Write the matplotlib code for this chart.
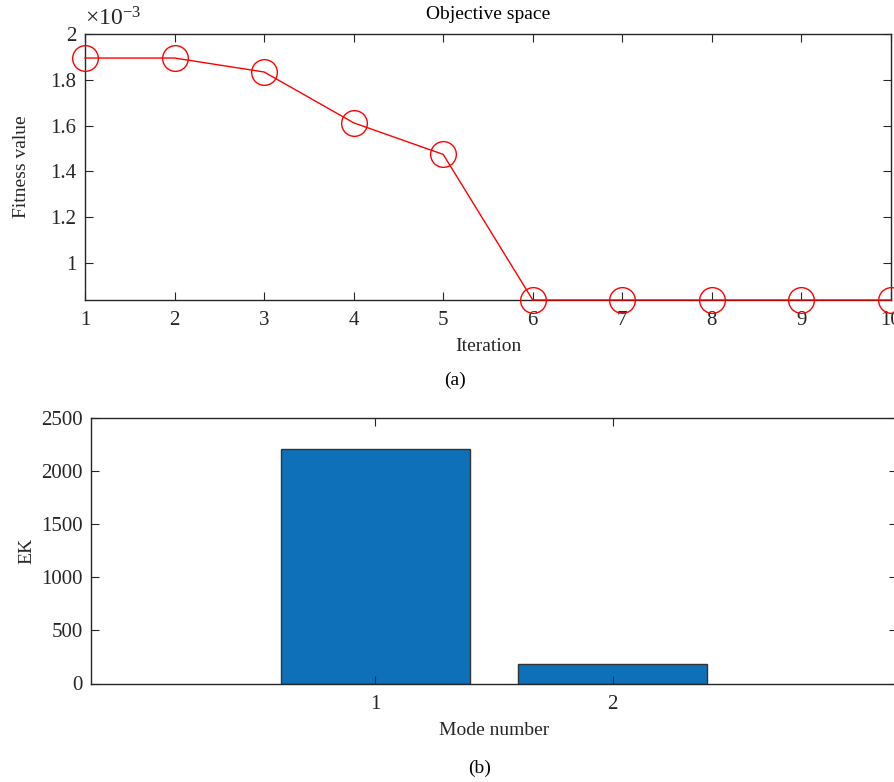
import matplotlib
matplotlib.use("Agg")
import matplotlib.pyplot as plt
from matplotlib.ticker import FuncFormatter, MultipleLocator

iterations = [1, 2, 3, 4, 5, 6, 7, 8, 9, 10]
fitness = [1.895e-3, 1.895e-3, 1.834e-3, 1.612e-3, 1.474e-3,
           0.838e-3, 0.838e-3, 0.838e-3, 0.838e-3, 0.838e-3]
modes = [1, 2]
ek = [2205, 180]

plt.rcParams['font.family'] = ['Liberation Serif', 'DejaVu Serif']
plt.rcParams['font.size'] = 14
plt.rcParams['mathtext.fontset'] = 'custom'
plt.rcParams['mathtext.rm'] = 'Liberation Serif'
plt.rcParams['mathtext.it'] = 'Liberation Serif:italic'
plt.rcParams['mathtext.default'] = 'rm'
dark = '#262626'

fig = plt.figure(figsize=(8.95, 7.82), dpi=100)

# Top axes
ax1 = fig.add_axes([85/895, 1-300/782, (891-85)/895, (300-34)/782])
ax1.plot(iterations, fitness, color='#ff0000', lw=1.0, marker='o',
         markersize=18.5, markerfacecolor='none', markeredgecolor='#ff0000',
         markeredgewidth=1.0, clip_on=False, zorder=3)
ax1.set_xlim(1, 10)
ax1.set_ylim(min(fitness), 2e-3)
ax1.set_xticks(iterations)
ax1.yaxis.set_major_locator(MultipleLocator(0.2e-3))
ax1.yaxis.set_major_formatter(FuncFormatter(lambda v, p: '%g' % round(v*1e3, 3)))
ax1.set_title('Objective space', fontsize=14, pad=11, color='black')
ax1.set_xlabel('Iteration', labelpad=6)
ax1.set_ylabel('Fitness value', labelpad=15)
ax1.text(0.0, 1.015, r'$\times10^{-3}$', transform=ax1.transAxes,
         ha='left', va='bottom', fontsize=17, color=dark)
fig.text(455/895, 1-380/782, '(a)', ha='center', va='center', fontsize=14)

# Bottom axes
ax2 = fig.add_axes([91/895, 1-683.5/782, (897-91)/895, (683.5-417.7)/782])
ax2.bar(modes, ek, width=0.8, color='#0d70b8', edgecolor='#333333', linewidth=1.0)
ax2.set_xlim(-0.2, 3.2)
ax2.set_ylim(0, 2500)
ax2.set_xticks(modes)
ax2.set_yticks([0, 500, 1000, 1500, 2000, 2500])
ax2.set_xlabel('Mode number', labelpad=6)
ax2.set_ylabel('EK', labelpad=4)
fig.text(480/895, 1-768/782, '(b)', ha='center', va='center', fontsize=14)

for ax in (ax1, ax2):
    for s in ax.spines.values():
        s.set_color(dark)
        s.set_linewidth(1.0)
    ax.tick_params(direction='in', length=6, width=0.8, top=True, right=True,
                   colors=dark, labelsize=15, pad=6)
    ax.tick_params(axis='x', pad=8)
    ax.xaxis.label.set_color(dark)
    ax.yaxis.label.set_color(dark)

fig.savefig('out.png', dpi=100)
